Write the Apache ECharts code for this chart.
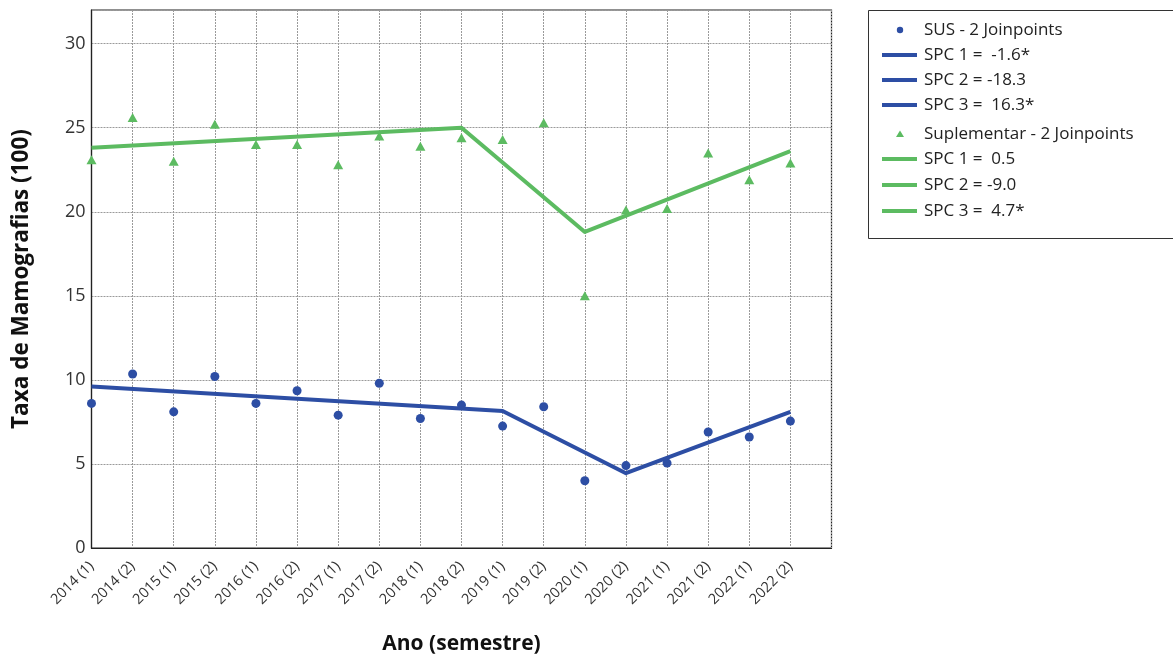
<!DOCTYPE html>
<html>
<head>
<meta charset="utf-8">
<script src="https://cdn.jsdelivr.net/npm/echarts@6/dist/echarts.min.js"></script>
<style>
  html, body { margin: 0; padding: 0; background: #fff; }
  #chart { width: 1173px; height: 657px; }
</style>
</head>
<body>
<div id="chart"></div>
<script>
// Semesters on the x axis (index = position)
const semesters = [
  '2014 (1)', '2014 (2)', '2015 (1)', '2015 (2)', '2016 (1)', '2016 (2)',
  '2017 (1)', '2017 (2)', '2018 (1)', '2018 (2)', '2019 (1)', '2019 (2)',
  '2020 (1)', '2020 (2)', '2021 (1)', '2021 (2)', '2022 (1)', '2022 (2)'
];

// Observed mammography rates
const susRates = [8.6, 10.35, 8.1, 10.2, 8.6, 9.35, 7.9, 9.8, 7.7, 8.5, 7.25, 8.4, 4.0, 4.9, 5.05, 6.9, 6.6, 7.55];
const supRates = [23.1, 25.6, 23.0, 25.2, 24.0, 24.0, 22.8, 24.5, 23.9, 24.4, 24.3, 25.3, 15.0, 20.1, 20.2, 23.5, 21.9, 22.9];

// Joinpoint model vertices: [semester index, fitted rate]
const susFit = [[0, 9.6], [10, 8.15], [13, 4.45], [17, 8.1]];
const supFit = [[0, 23.8], [9, 25.0], [12, 18.8], [17, 23.6]];

// Legend entries
const susLegend = ['SUS - 2 Joinpoints', 'SPC 1 =  -1.6*', 'SPC 2 = -18.3', 'SPC 3 =  16.3*'];
const supLegend = ['Suplementar - 2 Joinpoints', 'SPC 1 =  0.5', 'SPC 2 = -9.0', 'SPC 3 =  4.7*'];

const yTicks = [0, 5, 10, 15, 20, 25, 30];

const BLUE = '#2d4ea4';
const GREEN = '#5cbb61';
const FONT = '"Open Sans", "Noto Sans", sans-serif';

const chart = echarts.init(document.getElementById('chart'), null, { renderer: 'canvas' });

// Legend drawn as a boxed list of symbol + text rows
function legendGraphics() {
  const els = [];
  const x0 = 868, top = 10;
  els.push({
    type: 'rect', left: x0, top: top,
    shape: { width: 320, height: 228 },
    style: { fill: '#fff', stroke: '#333', lineWidth: 1 }
  });
  const rows = [30, 55, 80, 105, 134, 159, 185, 211];
  const groups = [[susLegend, BLUE, 'circle'], [supLegend, GREEN, 'triangle']];
  let r = 0;
  groups.forEach(([labels, color, sym]) => {
    labels.forEach((txt, i) => {
      const cy = rows[r++];
      if (i === 0) {
        if (sym === 'circle') {
          els.push({ type: 'circle', shape: { cx: 900, cy: cy, r: 3.2 }, style: { fill: color } });
        } else {
          els.push({ type: 'polygon', shape: { points: [[900, cy - 3.5], [896, cy + 3], [904, cy + 3]] }, style: { fill: color } });
        }
      } else {
        els.push({ type: 'line', shape: { x1: 882, y1: cy, x2: 917, y2: cy }, style: { stroke: color, lineWidth: 4 } });
      }
      els.push({
        type: 'text', x: 924, y: cy,
        style: { text: txt, fill: '#222', font: '17px ' + FONT, verticalAlign: 'middle', align: 'left' }
      });
    });
  });
  return els;
}

const option = {
  backgroundColor: '#fff',
  animation: false,
  grid: {
    left: 91.5, top: 10, right: 1173 - 831.5, bottom: 657 - 548,
    outerBoundsMode: 'none', containLabel: false,
    show: true, borderColor: '#222', borderWidth: 1.2, backgroundColor: 'transparent'
  },
  xAxis: {
    type: 'value', min: 0, max: 18, interval: 1,
    name: 'Ano (semestre)', nameLocation: 'middle', nameGap: 86,
    nameTextStyle: { fontFamily: FONT, fontSize: 21, fontWeight: 'bold', color: '#111' },
    axisLine: { show: true, lineStyle: { color: '#222', width: 1.2 } },
    axisTick: { show: false },
    axisLabel: {
      rotate: 45, margin: 16, fontFamily: FONT, fontSize: 14.5, color: '#333',
      formatter: v => (Number.isInteger(v) && v < semesters.length ? semesters[v] : '')
    },
    splitLine: { show: true, lineStyle: { type: [2, 1], color: '#9a9a9a', width: 1 } }
  },
  yAxis: {
    type: 'value', min: 0, max: 32, interval: 5,
    name: 'Taxa de Mamografias (100)', nameLocation: 'middle', nameGap: 58,
    nameTextStyle: { fontFamily: FONT, fontSize: 22.5, fontWeight: 'bold', color: '#111' },
    axisLine: { show: true, lineStyle: { color: '#222', width: 1.2 } },
    axisTick: { show: false },
    axisLabel: {
      margin: 6, fontFamily: FONT, fontSize: 18, color: '#333',
      formatter: v => (yTicks.indexOf(v) >= 0 ? String(v) : '')
    },
    splitLine: { show: true, lineStyle: { type: [2, 1], color: '#9a9a9a', width: 1 } }
  },
  series: [
    {
      name: 'SUS fit', type: 'line', data: susFit, symbol: 'none',
      lineStyle: { color: BLUE, width: 4, join: 'round' }, z: 3
    },
    {
      name: 'Suplementar fit', type: 'line', data: supFit, symbol: 'none',
      lineStyle: { color: GREEN, width: 4, join: 'round' }, z: 3
    },
    {
      name: susLegend[0], type: 'scatter', symbol: 'circle', symbolSize: 9,
      itemStyle: { color: BLUE, opacity: 1 },
      data: susRates.map((v, i) => [i, v]), z: 4
    },
    {
      name: supLegend[0], type: 'scatter', symbol: 'triangle', symbolSize: [10, 9],
      itemStyle: { color: GREEN, opacity: 1 },
      data: supRates.map((v, i) => [i, v]), z: 4
    }
  ],
  graphic: legendGraphics()
};

chart.setOption(option);
</script>
</body>
</html>
